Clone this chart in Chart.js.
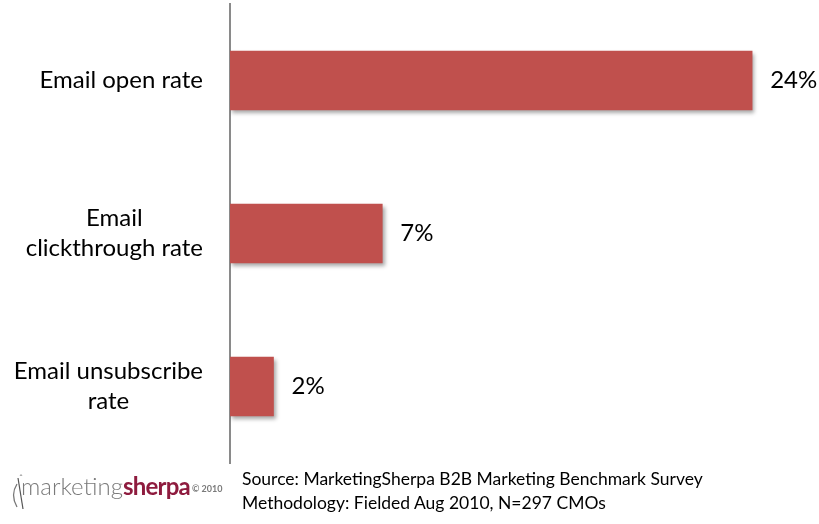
<!DOCTYPE html>
<html><head><meta charset="utf-8">
<script src="https://cdn.jsdelivr.net/npm/chart.js@4/dist/chart.umd.min.js"></script>
<style>
html,body{margin:0;padding:0;background:#fff;}
#wrap{position:relative;width:819px;height:524px;}
canvas{position:absolute;left:0;top:0;}
.src{position:absolute;left:242px;font-family:Lato,sans-serif;font-size:17.5px;color:#000;white-space:nowrap;line-height:24px;}
.logo{position:absolute;left:21px;top:471px;white-space:nowrap;font-family:Lato,sans-serif;font-size:24px;line-height:30px;}
.logo .m{color:#7a7a7a;font-weight:300;letter-spacing:0px;}
.logo .s{color:#8e1b3e;font-weight:700;letter-spacing:-0.8px;}
.logo .c{color:#7a7a7a;font-size:9px;font-weight:700;vertical-align:3px;margin-left:2px;}
</style></head>
<body><div id="wrap">
<canvas id="c" width="819" height="524"></canvas>
<svg style="position:absolute;left:8px;top:464px" width="18" height="58" viewBox="0 0 18 58">
<path d="M9 20 Q2 31 9 43" fill="none" stroke="#777" stroke-width="1.3"/>
<path d="M10 14 L15 45" stroke="#555" stroke-width="1.2"/>
<path d="M12 12 q1 -3 2 0" fill="none" stroke="#888" stroke-width="0.8"/>
</svg>
<div class="logo"><span class="m">marketing</span><span class="s">sherpa</span><span class="c">© 2010</span></div>
<div class="src" style="top:467px">Source: MarketingSherpa B2B Marketing Benchmark Survey</div>
<div class="src" style="top:491px">Methodology: Fielded Aug 2010, N=297 CMOs</div>
</div>
<script>
const categories = [["Email open rate"], ["Email", "clickthrough rate"], ["Email unsubscribe", "rate"]];
const values = [24, 7, 2];
const valueLabels = ["24%", "7%", "2%"];

const labelFont = '24px Lato, sans-serif';

const catLabelPlugin = {
  id: 'catLabels',
  afterDraw(chart) {
    const ctx = chart.ctx;
    const y = chart.scales.y;
    ctx.save();
    ctx.font = labelFont;
    ctx.fillStyle = '#000';
    ctx.textAlign = 'center';
    ctx.textBaseline = 'middle';
    const rightEdge = y.right - 27;
    const lh = 30;
    categories.forEach((lines, i) => {
      const cy = y.getPixelForValue(i);
      const widest = Math.max(...lines.map(l => ctx.measureText(l).width));
      const cx = rightEdge - widest / 2;
      const start = cy - (lines.length - 1) * lh / 2;
      lines.forEach((l, j) => ctx.fillText(l, cx, start + j * lh));
    });
    ctx.restore();
  }
};

const valueLabelPlugin = {
  id: 'valueLabels',
  afterDatasetsDraw(chart) {
    const ctx = chart.ctx;
    const meta = chart.getDatasetMeta(0);
    ctx.save();
    ctx.font = labelFont;
    ctx.fillStyle = '#000';
    ctx.textAlign = 'left';
    ctx.textBaseline = 'middle';
    meta.data.forEach((bar, i) => {
      ctx.fillText(valueLabels[i], bar.x + 18, bar.y);
    });
    ctx.restore();
  }
};

const shadowPlugin = {
  id: 'barShadow',
  beforeDatasetsDraw(chart) {
    const ctx = chart.ctx;
    ctx.save();
    ctx.shadowColor = 'rgba(0,0,0,0.35)';
    ctx.shadowBlur = 4;
    ctx.shadowOffsetX = 2;
    ctx.shadowOffsetY = 3;
  },
  afterDatasetsDraw(chart) {
    chart.ctx.restore();
  }
};

new Chart(document.getElementById('c'), {
  type: 'bar',
  data: {
    labels: categories,
    datasets: [{
      data: values,
      backgroundColor: '#c0504d',
      borderWidth: 0,
      barThickness: 59
    }]
  },
  options: {
    indexAxis: 'y',
    responsive: false,
    animation: false,
    devicePixelRatio: 1,
    layout: { padding: { top: 4, bottom: 61, right: 19, left: 0 } },
    plugins: { legend: { display: false }, tooltip: { enabled: false } },
    scales: {
      x: { min: 0, max: 26.2, display: false },
      y: {
        grid: { display: false },
        border: { display: true, color: '#8a8a8a', width: 2 },
        ticks: { display: false },
        afterFit(scale) { scale.width = 230; }
      }
    }
  },
  plugins: [shadowPlugin, valueLabelPlugin, catLabelPlugin]
});
</script>
</body></html>
